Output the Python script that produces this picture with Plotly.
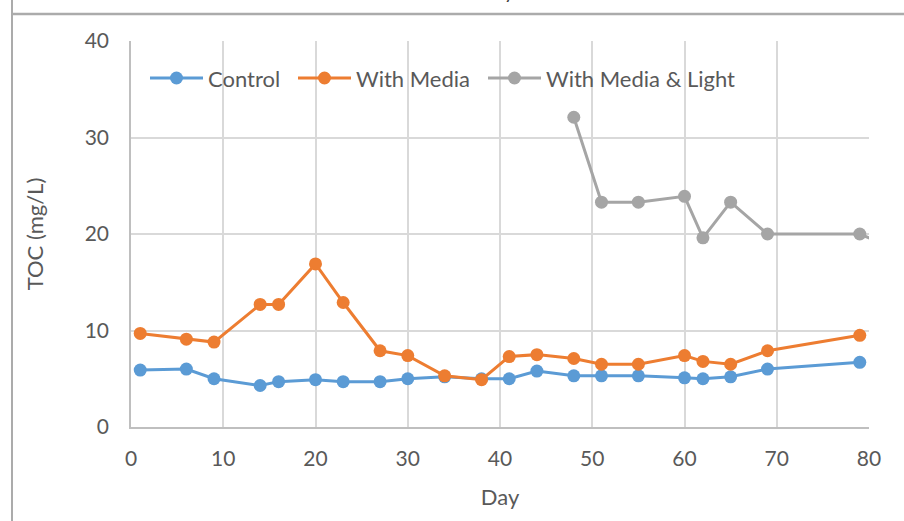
import plotly.graph_objects as go

# Sampling days and total organic carbon readings (mg/L)
days = [1, 6, 9, 14, 16, 20, 23, 27, 30, 34, 38, 41, 44, 48, 51, 55, 60, 62, 65, 69, 79]
control = [5.9, 6.0, 5.0, 4.3, 4.7, 4.9, 4.7, 4.7, 5.0, 5.2, 5.0, 5.0, 5.8, 5.3, 5.3, 5.3, 5.1, 5.0, 5.2, 6.0, 6.7]
with_media = [9.7, 9.1, 8.8, 12.7, 12.7, 16.9, 12.9, 7.9, 7.4, 5.3, 4.9, 7.3, 7.5, 7.1, 6.5, 6.5, 7.4, 6.8, 6.5, 7.9, 9.5]

light_days = [48, 51, 55, 60, 62, 65, 69, 79, 83]
with_media_light = [32.1, 23.3, 23.3, 23.9, 19.6, 23.3, 20.0, 20.0, 18.4]

x_ticks = [0, 10, 20, 30, 40, 50, 60, 70, 80]
y_ticks = [0, 10, 20, 30, 40]

FONT = "Lato, 'Open Sans', sans-serif"
TEXT = "#595959"
GRID = "#d9d9d9"

series = [
    ("Control", days, control, "#5B9BD5"),
    ("With Media", days, with_media, "#ED7D31"),
    ("With Media & Light", light_days, with_media_light, "#A5A5A5"),
]

# plot area in pixels: left 131, right 869, top 41, bottom 427
L, R, T, B = 131, 869, 41, 427
W, H = 904, 521


def px(xp):
    return (xp - L) / (R - L)


def py(yp):
    return (B - yp) / (B - T)


fig = go.Figure()
for name, xs, ys, color in series:
    fig.add_trace(go.Scatter(
        x=xs, y=ys, name=name, mode="lines+markers",
        line=dict(color=color, width=3),
        marker=dict(color=color, size=13),
        cliponaxis=True, showlegend=False,
    ))

# legend row drawn inside the plot: line sample, dot, label
legend_y = 78
legend_slots = [(150, 203), (298, 351), (488, 541)]
shapes = []
annotations = []
for (name, _, _, color), (x0, x1) in zip(series, legend_slots):
    shapes.append(dict(type="line", xref="paper", yref="paper",
                       x0=px(x0), x1=px(x1), y0=py(legend_y), y1=py(legend_y),
                       line=dict(color=color, width=3)))
    shapes.append(dict(type="circle", xref="paper", yref="paper",
                       xsizemode="pixel", ysizemode="pixel",
                       xanchor=px((x0 + x1) / 2), yanchor=py(legend_y),
                       x0=-6.5, x1=6.5, y0=-6.5, y1=6.5,
                       fillcolor=color, line=dict(width=0)))
    annotations.append(dict(text=name, xref="paper", yref="paper",
                            x=px(x1 + 3), y=py(legend_y),
                            xanchor="left", yanchor="middle", showarrow=False,
                            font=dict(size=22, color=TEXT, family=FONT)))

# chart frame edges
shapes += [
    dict(type="line", xref="paper", yref="paper", x0=px(12), x1=px(12),
         y0=py(0), y1=py(H), line=dict(color="#ababab", width=2)),
    dict(type="line", xref="paper", yref="paper", x0=px(12), x1=px(W + 5),
         y0=py(14), y1=py(14), line=dict(color="#ababab", width=2.5)),
]

# tail of the chart title above the frame
annotations.append(dict(text="y", xref="paper", yref="paper", x=px(509), y=py(5),
                        xanchor="center", yanchor="bottom", showarrow=False,
                        font=dict(size=20, color="#404040", family=FONT)))

fig.update_layout(
    width=W, height=H,
    margin=dict(l=L, r=W - R, t=T, b=H - B),
    paper_bgcolor="white", plot_bgcolor="white",
    font=dict(family=FONT, color=TEXT, size=21),
    showlegend=False,
    xaxis=dict(
        range=[0, 80], tickvals=x_ticks, ticktext=[str(v) for v in x_ticks],
        showgrid=True, gridcolor=GRID, gridwidth=1.5,
        showline=True, linecolor="#bfbfbf", linewidth=1.5,
        zeroline=False, ticks="", ticklabelstandoff=12,
        tickfont=dict(size=21, color=TEXT),
        title=dict(text="Day", font=dict(size=22, color=TEXT), standoff=21),
    ),
    yaxis=dict(
        range=[0, 40], tickvals=y_ticks, ticktext=[str(v) for v in y_ticks],
        showgrid=True, gridcolor=GRID, gridwidth=1.5,
        showline=True, linecolor="#bfbfbf", linewidth=1.5,
        zeroline=False, ticks="", ticklabelstandoff=16,
        tickfont=dict(size=21, color=TEXT),
        title=dict(text="TOC (mg/L)", font=dict(size=22, color=TEXT), standoff=35),
    ),
    shapes=shapes,
    annotations=annotations,
)

fig.write_html("out.html")
